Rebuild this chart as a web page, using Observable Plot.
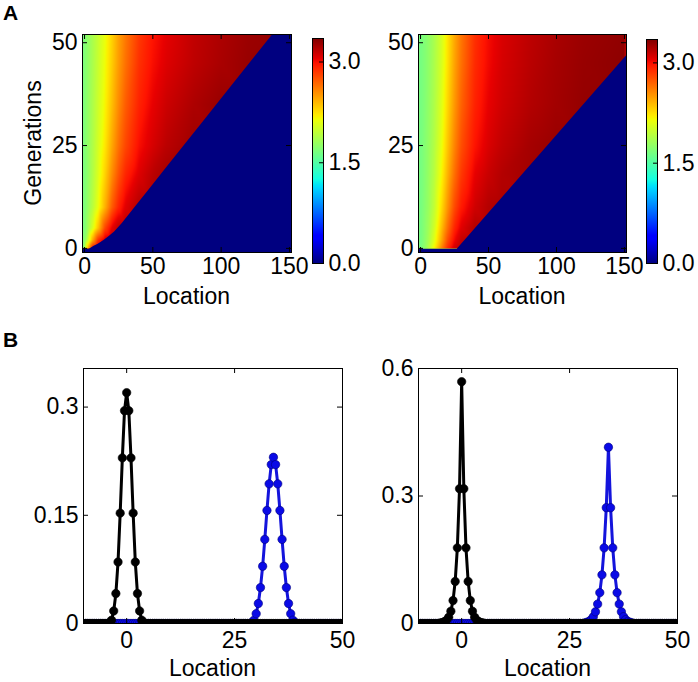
<!DOCTYPE html>
<html><head><meta charset="utf-8">
<script src="https://cdn.jsdelivr.net/npm/d3@7"></script>
<script src="https://cdn.jsdelivr.net/npm/@observablehq/plot@0.6"></script>
<style>
body{margin:0;background:#fff}
#root{position:relative;width:698px;height:682px;background:#fff;overflow:hidden}
#root svg{position:absolute;left:0;top:0}
</style></head><body><div id="root"></div>
<script>
// ---------- DATA ----------
// Heatmaps (panel A): sampled values read from the colour map
const heatLocations = [0, 3, 6, 10, 15, 20, 25, 30, 40, 50, 60, 80, 100, 120, 150];
const heatGenerations = [0, 2, 5, 10, 18, 25, 35, 45, 52];
const heatLeftValues = [
  [1.85, 2.5, 3.0, 3.15, 3.2, 3.2, 3.2, 3.2, 3.2, 3.2, 3.2, 3.2, 3.2, 3.2, 3.2],
  [1.72, 2.05, 2.45, 2.88, 3.12, 3.2, 3.2, 3.2, 3.2, 3.2, 3.2, 3.2, 3.2, 3.2, 3.2],
  [1.68, 1.86, 2.06, 2.36, 2.8, 3.05, 3.18, 3.2, 3.2, 3.2, 3.2, 3.2, 3.2, 3.2, 3.2],
  [1.68, 1.8, 1.93, 2.13, 2.42, 2.72, 2.93, 3.07, 3.2, 3.22, 3.22, 3.22, 3.22, 3.22, 3.22],
  [1.68, 1.78, 1.9, 2.07, 2.3, 2.55, 2.76, 2.92, 3.08, 3.18, 3.24, 3.24, 3.24, 3.24, 3.24],
  [1.7, 1.79, 1.89, 2.04, 2.23, 2.45, 2.65, 2.8, 3.0, 3.1, 3.18, 3.26, 3.26, 3.26, 3.26],
  [1.7, 1.79, 1.88, 2.01, 2.18, 2.37, 2.56, 2.72, 2.93, 3.05, 3.13, 3.22, 3.28, 3.28, 3.28],
  [1.7, 1.78, 1.87, 1.99, 2.15, 2.32, 2.5, 2.65, 2.88, 3.0, 3.08, 3.17, 3.23, 3.28, 3.3],
  [1.7, 1.78, 1.87, 1.98, 2.13, 2.3, 2.48, 2.62, 2.85, 2.98, 3.06, 3.16, 3.22, 3.27, 3.31]
];
const heatRightValues = [
  [1.65, 1.76, 1.92, 2.18, 2.55, 2.9, 3.12, 3.2, 3.2, 3.2, 3.2, 3.2, 3.2, 3.2, 3.2],
  [1.65, 1.74, 1.86, 2.08, 2.42, 2.78, 3.02, 3.15, 3.2, 3.2, 3.2, 3.2, 3.2, 3.2, 3.2],
  [1.65, 1.73, 1.83, 2.02, 2.34, 2.66, 2.92, 3.07, 3.2, 3.2, 3.2, 3.2, 3.2, 3.2, 3.2],
  [1.65, 1.72, 1.8, 1.96, 2.24, 2.53, 2.79, 2.96, 3.12, 3.2, 3.22, 3.22, 3.22, 3.22, 3.22],
  [1.65, 1.71, 1.79, 1.92, 2.15, 2.42, 2.66, 2.85, 3.05, 3.14, 3.2, 3.25, 3.25, 3.25, 3.25],
  [1.65, 1.71, 1.78, 1.9, 2.1, 2.35, 2.58, 2.77, 2.98, 3.09, 3.16, 3.24, 3.28, 3.28, 3.28],
  [1.65, 1.7, 1.77, 1.88, 2.06, 2.29, 2.51, 2.7, 2.93, 3.05, 3.12, 3.2, 3.25, 3.29, 3.3],
  [1.65, 1.7, 1.76, 1.87, 2.03, 2.25, 2.47, 2.65, 2.9, 3.02, 3.1, 3.18, 3.24, 3.28, 3.31],
  [1.65, 1.7, 1.76, 1.86, 2.02, 2.24, 2.45, 2.63, 2.88, 3.01, 3.09, 3.17, 3.23, 3.27, 3.3]
];
// Empty (value 0) region: boundary location per generation
const frontLeftGen = [-1, -0.2, -0.2, 0.5, 1, 2, 3, 4, 6, 10, 15, 20, 25, 30, 40, 52];
const frontLeftLoc = [-1.5, -1.5, 3.5, 7, 10, 14.5, 18.5, 22, 27.5, 37.1, 49.1, 61.1, 73.1, 85.1, 109.1, 137.9];
const frontRightGen = [-1, -0.2, -0.2, 46.2, 52];
const frontRightLoc = [-1.5, -1.5, 27, 150, 165.5];
const heatXTicks = [0, 50, 100, 150];
const heatYTicks = [0, 25, 50];
const colorTicks = [0, 1.5, 3.0];
const colorMax = 3.35;

// Distributions (panel B): values from the peak centre outward, step 0.5
const lineStep = 0.5;
const blackCenter = 0, blueCenter = 34;
const leftBlackPeak = [0.320, 0.295, 0.2296, 0.153, 0.0852, 0.0415, 0.0174, 0.0046, 0.001];
const leftBluePeak = [0.2304, 0.2203, 0.1936, 0.1567, 0.1166, 0.0793, 0.0498, 0.0277, 0.0136, 0.0046, 0.0015];
const rightBlackPeak = [0.569, 0.317, 0.178, 0.099, 0.054, 0.029, 0.015, 0.008, 0.0042, 0.0022, 0.0012];
const rightBluePeak = [0.4147, 0.2725, 0.178, 0.1145, 0.0726, 0.0457, 0.0275, 0.016, 0.009, 0.005, 0.0028, 0.0015];
const lineXTicks = [0, 25, 50];
const leftYTicks = [0, 0.15, 0.3];
const rightYTicks = [0, 0.3, 0.6];

// ---------- STYLE / LAYOUT ----------
const W = 698, H = 682;
const FONT = "'Liberation Sans', Arial, Helvetica, sans-serif";
const baseStyle = {background: "transparent", fontFamily: FONT, fontSize: "23px", color: "black", overflow: "visible"};
const jetStops = [0, 0.11, 0.125, 0.34, 0.35, 0.375, 0.64, 0.65, 0.66, 0.89, 0.91, 1];
const jetColors = ["rgb(0,0,128)", "rgb(0,0,255)", "rgb(0,0,255)", "rgb(0,219,255)", "rgb(0,230,247)", "rgb(21,255,226)",
  "rgb(238,255,8)", "rgb(247,246,0)", "rgb(255,236,0)", "rgb(255,19,0)", "rgb(232,0,0)", "rgb(128,0,0)"];
const jetScale = {type: "linear", domain: jetStops.map(t => t * colorMax), range: jetColors, interpolate: "rgb", clamp: true};
const heatXDomain = [-1.5, 151.5], heatYDomain = [-1, 52];
const root = document.getElementById("root");

function margins(f) {
  return {width: W, height: H, marginLeft: f[0], marginRight: W - f[1], marginTop: f[2], marginBottom: H - f[3]};
}
function inTicks(f, xt, yt, len, sides) {
  const iw = f[1] - f[0], ih = f[3] - f[2], m = [];
  if (xt) {
    m.push(Plot.tickX(xt, {x: d => d, insetTop: ih - len, stroke: "black"}));
    m.push(Plot.tickX(xt, {x: d => d, insetBottom: ih - len, stroke: "black"}));
  }
  if (yt) {
    if (sides !== "right") m.push(Plot.tickY(yt, {y: d => d, insetRight: iw - len, stroke: "black"}));
    m.push(Plot.tickY(yt, {y: d => d, insetLeft: iw - len, stroke: "black"}));
  }
  return m;
}
function add(svg) { root.appendChild(svg); }

function heatmap(values, fGen, fLoc, f) {
  const samples = [];
  heatGenerations.forEach((g, i) => heatLocations.forEach((l, j) => samples.push({gen: g, loc: l, v: values[i][j]})));
  const front = fGen.map((g, i) => ({gen: g, loc: fLoc[i]}));
  add(Plot.plot({
    ...margins(f), style: baseStyle,
    x: {domain: heatXDomain, axis: null},
    y: {domain: heatYDomain, axis: null},
    color: jetScale,
    marks: [
      Plot.raster(samples, {x: "loc", y: "gen", fill: "v", interpolate: "barycentric",
        x1: heatXDomain[0], x2: heatXDomain[1], y1: heatYDomain[0], y2: heatYDomain[1], pixelSize: 1}),
      Plot.areaX(front, {y: "gen", x1: "loc", x2: heatXDomain[1], fill: "#000080", clip: true}),
      ...inTicks(f, heatXTicks, heatYTicks, 5),
      Plot.frame({stroke: "black"}),
      Plot.axisX(heatXTicks, {tickSize: 0, tickPadding: 5, label: null, tickFormat: d => String(d)}),
      Plot.axisY(heatYTicks, {tickSize: 0, tickPadding: 5, label: null, tickFormat: d => String(d)})
    ]
  }));
}
function colorbar(f) {
  add(Plot.plot({
    ...margins(f), style: baseStyle,
    x: {domain: [0, 1], axis: null},
    y: {domain: [0, colorMax], axis: null},
    color: jetScale,
    marks: [
      Plot.raster({fill: (x, y) => y, x1: 0, x2: 1, y1: 0, y2: colorMax, pixelSize: 1}),
      ...inTicks(f, null, colorTicks, 4, "right"),
      Plot.frame({stroke: "black"}),
      Plot.axisY(colorTicks, {anchor: "right", tickSize: 0, tickPadding: 5, label: null, tickFormat: d3.format(".1f")})
    ]
  }));
}
function series(peak, center) {
  return d3.range(-10, 50 + lineStep / 2, lineStep).map(x => {
    const k = Math.round(Math.abs(x - center) / lineStep);
    return {loc: x, v: k < peak.length ? peak[k] : 0};
  });
}
function distPlot(blackPeak, bluePeak, yTicks, yMax, f) {
  const blk = series(blackPeak, blackCenter), blu = series(bluePeak, blueCenter);
  add(Plot.plot({
    ...margins(f), style: baseStyle,
    x: {domain: [-10, 50], axis: null},
    y: {domain: [0, yMax], axis: null},
    marks: [
      Plot.line(blu, {x: "loc", y: "v", stroke: "#1414dc", strokeWidth: 3, clip: true}),
      Plot.dot(blu, {x: "loc", y: "v", r: 4.2, fill: "#0a0ae6", stroke: "#00007a", strokeWidth: 0.6, clip: true}),
      Plot.line(blk, {x: "loc", y: "v", stroke: "black", strokeWidth: 3, clip: true}),
      Plot.dot(blk, {x: "loc", y: "v", r: 4.2, fill: "black", stroke: "black", strokeWidth: 0.6, clip: true}),
      ...inTicks(f, lineXTicks, yTicks, 5),
      Plot.frame({stroke: "black"}),
      Plot.axisX(lineXTicks, {tickSize: 0, tickPadding: 8, label: null, tickFormat: d => String(d)}),
      Plot.axisY(yTicks, {tickSize: 0, tickPadding: 5, label: null, tickFormat: d => String(d)})
    ]
  }));
}

// frames: [x0, x1, y0, y1] in page pixels
heatmap(heatLeftValues, frontLeftGen, frontLeftLoc, [82, 291, 34, 252]);
colorbar([312, 323, 38, 263]);
heatmap(heatRightValues, frontRightGen, frontRightLoc, [418, 626, 34, 252]);
colorbar([646, 657, 39, 263]);
distPlot(leftBlackPeak, leftBluePeak, leftYTicks, 0.3535, [83, 342, 368, 623]);
distPlot(rightBlackPeak, rightBluePeak, rightYTicks, 0.6, [418, 677, 368, 623]);

// titles and axis labels
const svg = d3.select(root).append("svg").attr("width", W).attr("height", H)
  .style("font-family", FONT).style("font-size", "23px");
const labels = [
  {t: "A", x: 3, y: 20, bold: true, anchor: "start"},
  {t: "B", x: 3, y: 347, bold: true, anchor: "start"},
  {t: "Location", x: 186.5, y: 304},
  {t: "Location", x: 522, y: 304},
  {t: "Location", x: 212.5, y: 676},
  {t: "Location", x: 547.5, y: 676}
];
labels.forEach(d => svg.append("text").attr("x", d.x).attr("y", d.y).attr("text-anchor", d.anchor || "middle")
  .attr("font-weight", d.bold ? "bold" : null).attr("font-size", d.bold ? 21 : 23).text(d.t));
svg.append("text").attr("transform", "translate(41,143) rotate(-90)").attr("text-anchor", "middle").text("Generations");
</script></body></html>
